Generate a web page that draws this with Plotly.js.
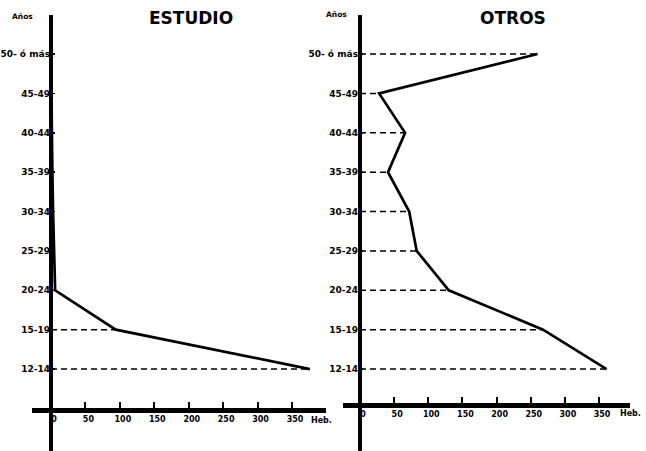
<!DOCTYPE html>
<html>
<head>
<meta charset="utf-8">
<script src="https://cdn.plot.ly/plotly-3.0.1.min.js"></script>
<style>html,body{margin:0;padding:0;background:#fff;}#chart{width:646px;height:451px;}</style>
</head>
<body>
<div id="chart"></div>
<script>
// Age groups, bottom to top
const ageGroups = ["12-14", "15-19", "20-24", "25-29", "30-34", "35-39", "40-44", "45-49", "50- ó más"];
// Habitantes (Heb.) per age group
const estudioValues = [376, 94, 6, 4, 3, 2, 1, 1, 0];
const otrosValues = [361, 268, 130, 83, 72, 41, 66, 28, 260];
const xTickValues = [0, 50, 100, 150, 200, 250, 300, 350];
const xTickLabels = ["0", "50", "100", "150", "200", "250", "300", "350"];
const panelTitles = ["ESTUDIO", "OTROS"];
const yAxisLabel = "Años";
const xAxisLabel = "Heb.";

function dashSegments(values) {
  const xs = [], ys = [];
  values.forEach((v, i) => { xs.push(0, v, null); ys.push(ageGroups[i], ageGroups[i], null); });
  return {xs, ys};
}

const yTickFont = {family: "DejaVu Sans, Arial, sans-serif", size: 9, color: "#000", weight: 700};
const xTickFont = {family: "DejaVu Sans, Arial, sans-serif", size: 8, color: "#000", weight: 700};
const W = 646, H = 451;

const dE = dashSegments(estudioValues);
const dO = dashSegments(otrosValues);

const traces = [
  {x: dE.xs, y: dE.ys, xaxis: "x", yaxis: "y", mode: "lines", line: {color: "#000", width: 1.5, dash: "6px,4px"}, hoverinfo: "skip", showlegend: false},
  {x: estudioValues, y: ageGroups, xaxis: "x", yaxis: "y", mode: "lines", line: {color: "#000", width: 2.7}, showlegend: false},
  {x: dO.xs, y: dO.ys, xaxis: "x2", yaxis: "y2", mode: "lines", line: {color: "#000", width: 1.5, dash: "6px,4px"}, hoverinfo: "skip", showlegend: false},
  {x: otrosValues, y: ageGroups, xaxis: "x2", yaxis: "y2", mode: "lines", line: {color: "#000", width: 2.7}, showlegend: false}
];

const yRange = [-2.08, 8.99];
const yDomain = [0, (H - 15) / H];

function xAxis(pxStart, pxEnd, pxZero, pxPerUnit, pxLineY) {
  return {
    domain: [pxStart / W, pxEnd / W],
    range: [(pxStart - pxZero) / pxPerUnit, (pxEnd - pxZero) / pxPerUnit],
    anchor: "free", position: (H - pxLineY) / H,
    showgrid: false, zeroline: true, zerolinecolor: "#000", zerolinewidth: 4.5,
    showline: true, linecolor: "#000", linewidth: 4.5,
    ticks: "inside", ticklen: 6, tickwidth: 2, tickcolor: "#000",
    tickvals: xTickValues, ticktext: xTickLabels, tickfont: xTickFont,
    ticklabelshift: 3, fixedrange: true
  };
}
function yAxis(pxAxis) {
  return {
    type: "category", categoryorder: "array", categoryarray: ageGroups,
    domain: yDomain, range: yRange,
    anchor: "free", position: pxAxis / W,
    showgrid: false, zeroline: false, showline: false,
    ticks: "inside", ticklen: 4, tickwidth: 1.5, tickcolor: "#000",
    ticklabelstandoff: 0,
    tickfont: yTickFont, fixedrange: true
  };
}

const annFont = {family: "DejaVu Sans, Arial, sans-serif", color: "#000", weight: 700};
const layout = {
  width: W, height: H,
  margin: {l: 0, r: 0, t: 0, b: 0},
  paper_bgcolor: "#fff", plot_bgcolor: "rgba(0,0,0,0)",
  showlegend: false,
  xaxis: xAxis(32, 326, 51, 0.6886, 410),
  yaxis: yAxis(50),
  xaxis2: xAxis(343, 630, 360, 0.683, 405),
  yaxis2: yAxis(358),
  annotations: [
    {text: panelTitles[0], x: 191 / W, y: 1 - 18 / H, xref: "paper", yref: "paper", showarrow: false, xanchor: "center", yanchor: "middle", font: Object.assign({size: 17}, annFont)},
    {text: panelTitles[1], x: 513 / W, y: 1 - 18 / H, xref: "paper", yref: "paper", showarrow: false, xanchor: "center", yanchor: "middle", font: Object.assign({size: 17}, annFont)},
    {text: yAxisLabel, x: 22 / W, y: 1 - 16 / H, xref: "paper", yref: "paper", showarrow: false, xanchor: "center", yanchor: "middle", font: Object.assign({size: 7.5}, annFont)},
    {text: yAxisLabel, x: 336 / W, y: 1 - 15 / H, xref: "paper", yref: "paper", showarrow: false, xanchor: "center", yanchor: "middle", font: Object.assign({size: 7.5}, annFont)},
    {text: xAxisLabel, x: 321 / W, y: 1 - 420 / H, xref: "paper", yref: "paper", showarrow: false, xanchor: "center", yanchor: "middle", font: Object.assign({size: 8}, annFont)},
    {text: xAxisLabel, x: 630 / W, y: 1 - 413 / H, xref: "paper", yref: "paper", showarrow: false, xanchor: "center", yanchor: "middle", font: Object.assign({size: 8}, annFont)}
  ]
};

Plotly.newPlot("chart", traces, layout, {staticPlot: true, displayModeBar: false});
</script>
</body>
</html>
